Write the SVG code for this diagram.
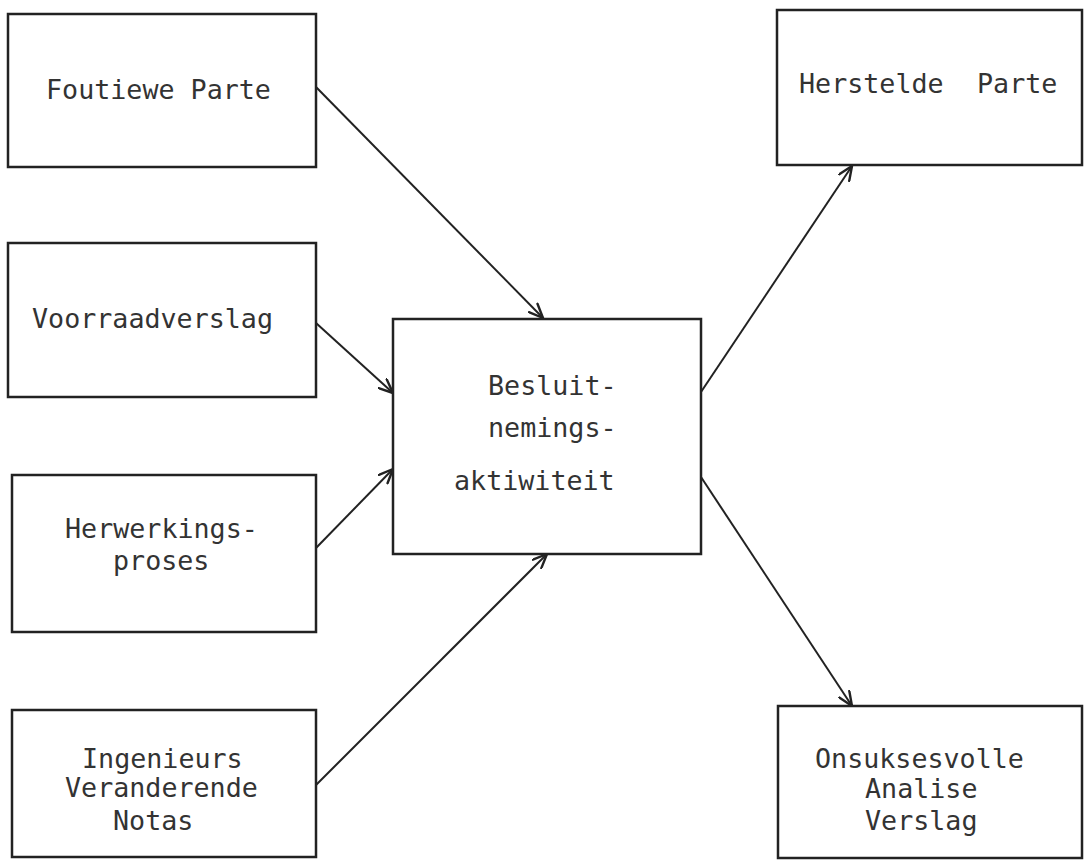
<svg xmlns="http://www.w3.org/2000/svg" width="1084" height="861" viewBox="0 0 1084 861">
  <defs>
    <style>
      .box { fill: #ffffff; stroke: #222222; stroke-width: 2.5; }
      .lbl { font-family: "DejaVu Sans Mono", "Liberation Mono", monospace; font-size: 26.7px; fill: #333333; }
      .link { fill: none; stroke: #222222; stroke-width: 2; marker-end: url(#head); }
    </style>
    <marker id="head" viewBox="0 0 16 14" refX="15" refY="7" markerWidth="16" markerHeight="14" markerUnits="userSpaceOnUse" orient="auto">
      <path d="M1,1 L15,7 L1,13" fill="none" stroke="#222222" stroke-width="2.4" stroke-linecap="round" stroke-linejoin="round"/>
    </marker>
  </defs>
  <rect width="1084" height="861" fill="#ffffff"/>

  <g id="connectors">
    <line class="link" x1="316" y1="87" x2="543" y2="318"/>
    <line class="link" x1="316" y1="323" x2="393" y2="393"/>
    <line class="link" x1="316" y1="548" x2="393" y2="469"/>
    <line class="link" x1="316" y1="785" x2="547" y2="554"/>
    <line class="link" x1="701" y1="392" x2="852" y2="166"/>
    <line class="link" x1="701" y1="477" x2="852" y2="706"/>
  </g>

  <g id="foutiewe-parte">
    <rect class="box" x="8" y="14" width="308" height="153"/>
    <text class="lbl" x="46" y="99">Foutiewe Parte</text>
  </g>

  <g id="voorraadverslag">
    <rect class="box" x="8" y="243" width="308" height="154"/>
    <text class="lbl" x="32" y="328">Voorraadverslag</text>
  </g>

  <g id="herwerkingsproses">
    <rect class="box" x="12" y="475" width="304" height="157"/>
    <text class="lbl" x="65" y="538">Herwerkings-</text>
    <text class="lbl" x="113" y="570">proses</text>
  </g>

  <g id="ingenieurs-notas">
    <rect class="box" x="12" y="710" width="304" height="147"/>
    <text class="lbl" x="82" y="768">Ingenieurs</text>
    <text class="lbl" x="65" y="797">Veranderende</text>
    <text class="lbl" x="113" y="830">Notas</text>
  </g>

  <g id="besluitneming">
    <rect class="box" x="393" y="319" width="308" height="235"/>
    <text class="lbl" x="488" y="395">Besluit-</text>
    <text class="lbl" x="488" y="437">nemings-</text>
    <text class="lbl" x="454" y="490">aktiwiteit</text>
  </g>

  <g id="herstelde-parte">
    <rect class="box" x="777" y="10" width="305" height="155"/>
    <text class="lbl" y="93"><tspan x="799">Herstelde</tspan><tspan x="977">Parte</tspan></text>
  </g>

  <g id="onsuksesvolle-verslag">
    <rect class="box" x="778" y="706" width="304" height="152"/>
    <text class="lbl" x="815" y="768">Onsuksesvolle</text>
    <text class="lbl" x="865" y="798">Analise</text>
    <text class="lbl" x="865" y="830">Verslag</text>
  </g>
</svg>
